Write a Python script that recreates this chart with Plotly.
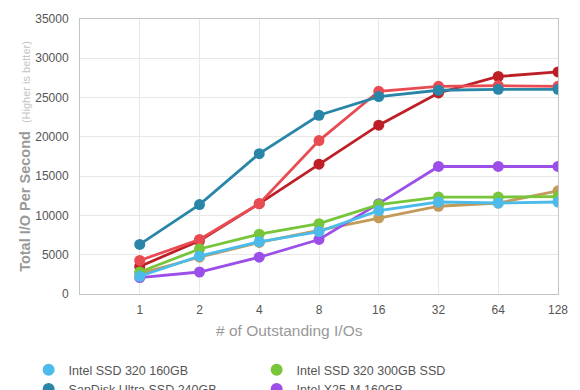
import plotly.graph_objects as go

categories = ["1", "2", "4", "8", "16", "32", "64", "128"]
series_names = [
    "Intel SSD 320 160GB",
    "Intel SSD 320 300GB SSD",
    "SanDisk Ultra SSD 240GB",
    "Intel X25-M 160GB",
    "OCZ Vertex 3 240GB",
    "Crucial m4 256GB",
    "Intel SSD 510 250GB",
]
intel320_160 = [2260, 4810, 6650, 7950, 10620, 11710, 11580, 11710]
intel320_300 = [2800, 5730, 7610, 8950, 11380, 12340, 12340, 12400]
sandisk_ultra = [6310, 11380, 17860, 22750, 25130, 25930, 26050, 26050]
intel_x25m = [2090, 2800, 4680, 6940, 11500, 16230, 16230, 16230]
ocz_vertex3 = [4270, 6940, 11500, 19530, 25800, 26430, 26510, 26430]
crucial_m4 = [3510, 6770, 11500, 16520, 21490, 25590, 27680, 28270]
intel510 = [2590, 4680, 6570, 8110, 9700, 11170, 11580, 13130]

series_values = [intel320_160, intel320_300, sandisk_ultra, intel_x25m,
                 ocz_vertex3, crucial_m4, intel510]
colors = ["#4cbbe9", "#76c53a", "#2a86a8", "#9b4fe8", "#e84c52", "#be1f26", "#c49a58"]

draw_order = [6, 5, 4, 2, 3, 1, 0]

fig = go.Figure()
xs = list(range(len(categories)))
for i in draw_order:
    fig.add_trace(go.Scatter(
        x=xs, y=series_values[i], mode="lines+markers",
        line=dict(color=colors[i], width=2.8),
        marker=dict(color=colors[i], size=11),
        showlegend=False, hoverinfo="skip"))

for i, name in enumerate(series_names):
    fig.add_trace(go.Scatter(
        x=[None], y=[None], mode="markers", name=name,
        marker=dict(color=colors[i], size=11)))

PH = 279.0  # plot height in px
fig.update_layout(
    width=580, height=470,
    margin=dict(l=80, r=21, t=15, b=176),
    paper_bgcolor="white", plot_bgcolor="white",
    font=dict(family="Liberation Sans, Arial, sans-serif", color="#555", size=12),
    legend=dict(orientation="h", x=-0.1075, xanchor="left", y=(294 - 356) / PH, yanchor="top",
                entrywidth=183, entrywidthmode="pixels", itemwidth=30,
                font=dict(size=12.5, color="#555"), itemsizing="constant",
                tracegroupgap=0),
    annotations=[dict(
        text="# of Outstanding I/Os", xref="paper", yref="paper",
        x=(290 - 80) / 479, y=(294 - 331) / PH, xanchor="center", yanchor="middle",
        showarrow=False, font=dict(size=15.5, color="#999"))],
)
fig.update_xaxes(
    range=[-1, 7], tickmode="array", tickvals=xs, ticktext=categories,
    showgrid=True, gridcolor="#e8e8e8", gridwidth=1,
    showline=True, linecolor="#c4c4c4", linewidth=1, mirror=True,
    zeroline=False, ticks="", tickfont=dict(size=12, color="#555"),
    ticklabelstandoff=5, ticklabeloverflow="allow")
fig.update_yaxes(
    range=[0, 35000], dtick=5000, tickformat="d",
    showgrid=True, gridcolor="#e8e8e8", gridwidth=1,
    showline=True, linecolor="#c4c4c4", linewidth=1, mirror=True,
    zeroline=False, ticks="", tickfont=dict(size=12, color="#555"),
    ticklabelstandoff=8,
    title=dict(text="<b>Total I/O Per Second</b>  <span style='font-size:11px;color:#c4c4c4'>(Higher is better)</span>",
               font=dict(size=14.5, color="#999"), standoff=1))

fig.write_html("out.html", config={"displayModeBar": False},
               post_script="document.documentElement.style.overflow='hidden';document.body.style.overflow='hidden';document.body.style.margin='0';")
